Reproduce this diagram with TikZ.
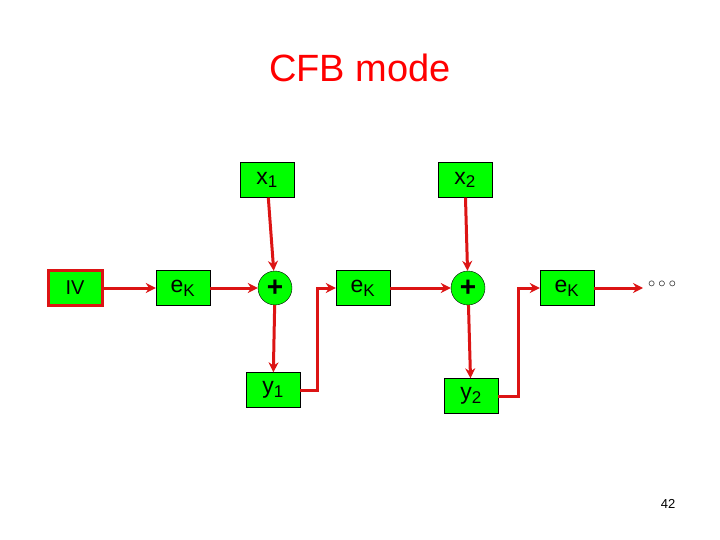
\documentclass[tikz,border=0pt]{standalone}
\usepackage{fontspec}
\setmainfont{Liberation Sans}
\usetikzlibrary{positioning}
\usetikzlibrary{arrows.meta}
\definecolor{boxgreen}{RGB}{0,255,0}
\definecolor{wirered}{RGB}{220,20,20}
\begin{document}
\begin{tikzpicture}[x=1pt,y=-1pt,
	blk/.style={draw, fill=boxgreen, minimum width=54pt, minimum height=35pt, inner sep=0pt, font=\fontsize{23}{24}\selectfont},
	xorn/.style={draw, circle, fill=boxgreen, minimum size=34pt, inner sep=0pt, font=\bfseries\fontsize{28}{28}\selectfont},
	wire/.style={draw=wirered, line width=3pt, -{Stealth[length=10pt,width=10pt]}}]
	\useasboundingbox (0,0) rectangle (720,540);
	\node[text=red, font=\fontsize{38}{40}\selectfont] (title) at (360,68) {CFB mode};
	\node[blk, draw=wirered, line width=3pt, font=\fontsize{20}{22}\selectfont] (iv) at (75,288) {IV};
	\node[blk] (ek1) at (183,288) {e$_{\mbox{\fontsize{17}{17}\selectfont K}}$};
	\node[xorn] (xor1) at (275,288) {+};
	\node[blk] (x1) at (267,180) {x$_{\mbox{\fontsize{17}{17}\selectfont 1}}$};
	\node[blk] (y1) at (273,390) {y$_{\mbox{\fontsize{17}{17}\selectfont 1}}$};
	\node[blk] (ek2) at (363,288) {e$_{\mbox{\fontsize{17}{17}\selectfont K}}$};
	\node[xorn] (xor2) at (468,288) {+};
	\node[blk] (x2) at (465,180) {x$_{\mbox{\fontsize{17}{17}\selectfont 2}}$};
	\node[blk] (y2) at (471,396) {y$_{\mbox{\fontsize{17}{17}\selectfont 2}}$};
	\node[blk] (ek3) at (567,288) {e$_{\mbox{\fontsize{17}{17}\selectfont K}}$};
	\coordinate (more) at (643,288);
	\node[font=\fontsize{15}{15}\selectfont] (dots) at (662,284) {$\circ\circ\circ$};
	\node[font=\fontsize{13}{13}\selectfont] (page) at (668,504) {42};
	% chaining
	\path[wire] (iv) -- (ek1);
	\path[wire] (ek1) -- (xor1);
	\path[wire] (x1) -- (xor1);
	\path[wire] (xor1) -- (y1);
	\path[wire] (y1.east) -- ++(17,0) |- (ek2.west);
	\path[wire] (ek2) -- (xor2);
	\path[wire] (x2) -- (xor2);
	\path[wire] (xor2) -- (y2);
	\path[wire] (y2.east) -- ++(20,0) |- (ek3.west);
	\path[wire] (ek3) -- (more);
\end{tikzpicture}
\end{document}
